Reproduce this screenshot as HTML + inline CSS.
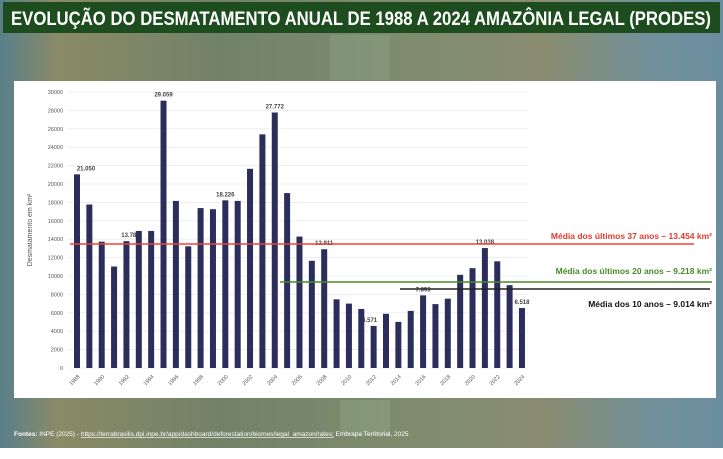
<!DOCTYPE html>
<html><head><meta charset="utf-8"><style>
body{margin:0;width:723px;height:454px;overflow:hidden;background:#fff;font-family:"Liberation Sans",sans-serif}
</style></head><body>
<svg width="723" height="454" xmlns="http://www.w3.org/2000/svg" font-family="Liberation Sans, sans-serif">
<defs>
<linearGradient id="bg" x1="0" y1="0" x2="1" y2="0">
<stop offset="0" stop-color="#5a7f8a"/><stop offset="0.08" stop-color="#8a8a66"/><stop offset="0.3" stop-color="#728268"/><stop offset="0.55" stop-color="#7e8c6e"/><stop offset="0.75" stop-color="#8a8c70"/><stop offset="0.9" stop-color="#72909a"/><stop offset="1" stop-color="#6a8ea0"/>
</linearGradient>
</defs>
<rect x="0" y="0" width="723" height="448" fill="url(#bg)"/>
<rect x="330" y="35" width="60" height="45" fill="#8fa58a" opacity="0.4"/>
<rect x="340" y="400" width="50" height="35" fill="#93a98d" opacity="0.4"/>
<rect x="0" y="448" width="723" height="6" fill="#fff"/>
<rect x="3" y="2" width="717" height="31" fill="#1d4d1f"/>
<text x="361" y="25" text-anchor="middle" fill="#fff" font-size="19" font-weight="bold" textLength="700" lengthAdjust="spacingAndGlyphs">EVOLUÇÃO DO DESMATAMENTO ANUAL DE 1988 A 2024 AMAZÔNIA LEGAL (PRODES)</text>
<rect x="14" y="81" width="702" height="317" fill="#fff"/>
<g id="chart"></g>
<text x="14" y="436" fill="#fff" font-size="6.5"><tspan font-weight="bold">Fontes:</tspan> INPE (2025) -  <tspan text-decoration="underline">https://terrabrasilis.dpi.inpe.br/app/dashboard/deforestation/biomes/legal_amazon/rates;</tspan> Embrapa Territorial, 2025</text>
</svg>
<script>
const g=document.getElementById('chart');const ns='http://www.w3.org/2000/svg';
function el(t,a,txt){const e=document.createElementNS(ns,t);for(const k in a)e.setAttribute(k,a[k]);if(txt!==undefined)e.textContent=String(txt);g.appendChild(e);return e;}
const Y=v=>368-v*0.0092;
for(let v=0;v<=30000;v+=2000){el('line',{x1:68,x2:528,y1:Y(v),y2:Y(v),stroke:'#e4e4e4','stroke-width':0.6});el('text',{x:63,y:Y(v)+2,'text-anchor':'end','font-size':5.5,fill:'#555'},String(v));}
el('text',{x:32,y:230,'text-anchor':'middle','font-size':7,fill:'#555',transform:'rotate(-90 32 230)'},'Desmatamento em km²');
const d=[21050,17770,13730,11030,13786,14896,14896,29059,18161,13227,17383,17259,18226,18165,21651,25396,27772,19014,14286,11651,12911,7464,7000,6418,4571,5891,5012,6207,7893,6947,7536,10129,10851,13038,11594,9001,6518];
const lab={0:'21.050',4:'13.786',7:'29.059',12:'18.226',16:'27.772',20:'12.911',24:'4.571',28:'7.893',33:'13.038',36:'6.518'};
d.forEach((v,i)=>{const x=77+i*12.36;el('rect',{x:x-3,y:Y(v),width:6,height:368-Y(v),fill:'#2b2d5a'});
if(lab[i]!==undefined)el('text',{x:x+(i==0?9:i==4?4:i==24?-4:0),y:Y(v)-4,'text-anchor':'middle','font-size':6,'font-weight':'bold',fill:'#444'},lab[i]);
if(i%2==0){const yr=1988+i;el('text',{x:x+3,y:377,'text-anchor':'end','font-size':5.5,fill:'#555',transform:`rotate(-45 ${x+3} 377)`},yr);}});
el('line',{x1:70,x2:694,y1:244,y2:244,stroke:'#e8453a','stroke-width':1.5});
el('line',{x1:280,x2:712,y1:282,y2:282,stroke:'#4a8a2a','stroke-width':1.5});
el('line',{x1:400,x2:710,y1:289,y2:289,stroke:'#222','stroke-width':1.5});
el('text',{x:712,y:239,'text-anchor':'end','font-size':8.5,'font-weight':'bold',fill:'#e03a30'},'Média dos últimos 37 anos – 13.454 km²');
el('text',{x:712,y:274,'text-anchor':'end','font-size':8.5,'font-weight':'bold',fill:'#4a8a2a'},'Média dos últimos 20 anos – 9.218 km²');
el('text',{x:712,y:307,'text-anchor':'end','font-size':8.5,'font-weight':'bold',fill:'#111'},'Média dos 10 anos – 9.014 km²');
</script>
</body></html>
